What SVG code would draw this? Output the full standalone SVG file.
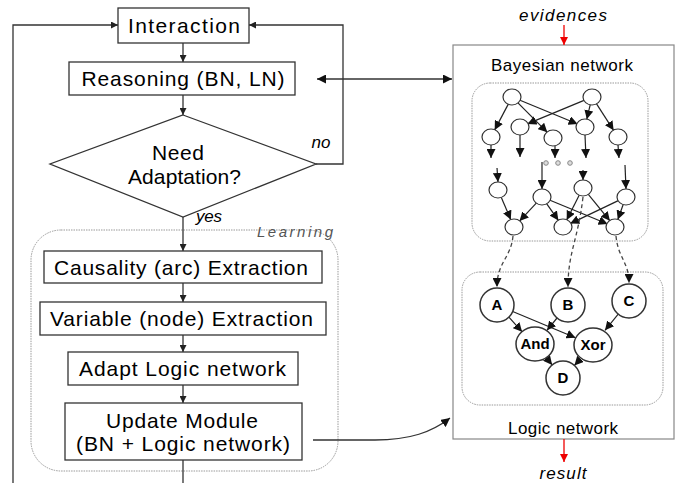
<svg xmlns="http://www.w3.org/2000/svg" width="682" height="483" viewBox="0 0 682 483">
<style>
.box{fill:#fff;stroke:#333;stroke-width:1.3}
.t{font-family:"Liberation Sans",Arial,sans-serif;font-size:21px;fill:#000;text-anchor:middle}
.it{font-family:"Liberation Sans",Arial,sans-serif;font-style:italic;font-size:17px;fill:#000;text-anchor:middle}
.st{font-family:"Liberation Sans",Arial,sans-serif;font-size:17px;fill:#000;text-anchor:middle}
.nl{font-family:"Liberation Sans",Arial,sans-serif;font-weight:bold;font-size:15px;fill:#000;text-anchor:middle}
.ln{fill:none;stroke:#333;stroke-width:1.3}
.bn{fill:none;stroke:#222;stroke-width:1.2}
.dash{fill:none;stroke:#444;stroke-width:1.3;stroke-dasharray:4 3}
.red{fill:none;stroke:#e00;stroke-width:1.3}
.grp{fill:none;stroke:#999;stroke-width:1;stroke-dasharray:1.5 1}
.node{fill:#fff;stroke:#333;stroke-width:1.2}
.lnode{fill:#fff;stroke:#333;stroke-width:1.5}
</style>
<defs>
<marker id="ah" viewBox="0 0 8 8" refX="8" refY="4" markerWidth="7" markerHeight="7" markerUnits="userSpaceOnUse" orient="auto"><path d="M0,0 L8,4 L0,8 z" fill="#222"/></marker>
<marker id="ahs" viewBox="0 0 8 8" refX="0" refY="4" markerWidth="9" markerHeight="9" markerUnits="userSpaceOnUse" orient="auto"><path d="M8,0 L0,4 L8,8 z" fill="#111"/></marker>
<marker id="ahb" viewBox="0 0 8 8" refX="8" refY="4" markerWidth="9" markerHeight="9" markerUnits="userSpaceOnUse" orient="auto"><path d="M0,0 L8,4 L0,8 z" fill="#111"/></marker>
<marker id="ahr" viewBox="0 0 8 8" refX="8" refY="4" markerWidth="8" markerHeight="8" markerUnits="userSpaceOnUse" orient="auto"><path d="M0,0 L8,4 L0,8 z" fill="#e00"/></marker>
</defs>

<!-- groups / containers -->
<rect id="learning-group" class="grp" x="31" y="230" width="307" height="241" rx="30"/>
<text class="it" x="295" y="237" style="fill:#555;font-size:15px" textLength="76">Learning</text>

<g id="right-panel">
<rect x="453" y="45" width="221" height="394" fill="#fff" stroke="#888" stroke-width="1.2"/>
<text class="st" x="562" y="71" textLength="142">Bayesian network</text>
<text class="st" x="563" y="434" textLength="110">Logic network</text>
<rect class="grp" x="472" y="83" width="176" height="158" rx="18"/>
<rect class="grp" x="462" y="272" width="201" height="133" rx="18"/>
</g>

<!-- connectors -->
<g id="connectors">
<line class="ln" x1="183" y1="43" x2="183" y2="62" marker-end="url(#ah)"/>
<line class="ln" x1="183" y1="95" x2="183" y2="115" marker-end="url(#ah)"/>
<line class="ln" x1="183" y1="217" x2="183" y2="251" marker-end="url(#ah)"/>
<line class="ln" x1="183" y1="283" x2="183" y2="302" marker-end="url(#ah)"/>
<line class="ln" x1="183" y1="335" x2="183" y2="352" marker-end="url(#ah)"/>
<line class="ln" x1="183" y1="385" x2="183" y2="403" marker-end="url(#ah)"/>
<line class="ln" x1="183" y1="460" x2="183" y2="483"/>
<polyline class="ln" points="13,483 13,25 118,25" marker-end="url(#ah)"/>
<polyline class="ln" points="316,164 343,164 343,25 249,25" marker-end="url(#ah)"/>
<line class="ln" x1="317" y1="79" x2="452" y2="79" marker-start="url(#ahs)" marker-end="url(#ahb)"/>
<path class="ln" d="M313,440 L375,440 C410,440 432,432 450,418" marker-end="url(#ahb)"/>
<line class="red" x1="564" y1="25" x2="564" y2="45" marker-end="url(#ahr)"/>
<line class="red" x1="564" y1="439" x2="564" y2="462" marker-end="url(#ahr)"/>

<!-- BN edges -->
<line class="bn" x1="508.3" y1="104.1" x2="494.7" y2="129.9" marker-end="url(#ahb)"/>
<line class="bn" x1="517.7" y1="102.7" x2="547.3" y2="132.3" marker-end="url(#ahb)"/>
<line class="bn" x1="519.4" y1="100" x2="577.6" y2="124" marker-end="url(#ahb)"/>
<line class="bn" x1="584.6" y1="100.1" x2="527.4" y2="123.9" marker-end="url(#ahb)"/>
<line class="bn" x1="590.2" y1="104.8" x2="586.8" y2="119.2" marker-end="url(#ahb)"/>
<line class="bn" x1="596.4" y1="103.7" x2="613.6" y2="130.3" marker-end="url(#ahb)"/>
<line class="bn" x1="491" y1="145" x2="491" y2="158" marker-end="url(#ahb)"/>
<line class="bn" x1="520" y1="135" x2="520" y2="157" marker-end="url(#ahb)"/>
<line class="bn" x1="555" y1="146" x2="555" y2="158" marker-end="url(#ahb)"/>
<line class="bn" x1="585" y1="135" x2="586" y2="158" marker-end="url(#ahb)"/>
<line class="bn" x1="618" y1="145" x2="619" y2="158" marker-end="url(#ahb)"/>
<line class="bn" x1="497" y1="168" x2="498" y2="182" marker-end="url(#ahb)"/>
<line class="bn" x1="542" y1="162" x2="542" y2="189" marker-end="url(#ahb)"/>
<line class="bn" x1="583" y1="170" x2="583" y2="180" marker-end="url(#ahb)"/>
<line class="bn" x1="625" y1="165" x2="626" y2="189" marker-end="url(#ahb)"/>
<line class="bn" x1="501.2" y1="197.3" x2="510.8" y2="219.7" marker-end="url(#ahb)"/>
<line class="bn" x1="536.5" y1="202.9" x2="519.5" y2="221.1" marker-end="url(#ahb)"/>
<line class="bn" x1="546.6" y1="203.6" x2="558.4" y2="220.4" marker-end="url(#ahb)"/>
<line class="bn" x1="549.4" y1="200" x2="607.6" y2="224" marker-end="url(#ahb)"/>
<line class="bn" x1="579.3" y1="195.1" x2="566.7" y2="219.9" marker-end="url(#ahb)"/>
<line class="bn" x1="588.1" y1="194.2" x2="609.9" y2="220.8" marker-end="url(#ahb)"/>
<line class="bn" x1="618.8" y1="200.4" x2="570.2" y2="223.6" marker-end="url(#ahb)"/>
<line class="bn" x1="623.2" y1="204.5" x2="617.8" y2="219.5" marker-end="url(#ahb)"/>

<!-- BN to logic dashed -->
<path class="dash" d="M513,236 C511,258 497,262 497,287" marker-end="url(#ahb)"/>
<path class="dash" d="M583,197 C578,240 568,252 568,287" marker-end="url(#ahb)"/>
<path class="dash" d="M616,236 C618,258 629,262 629,283" marker-end="url(#ahb)"/>

<!-- logic edges -->
<line class="bn" x1="508.9" y1="317.2" x2="522.1" y2="331.8" marker-end="url(#ahb)"/>
<line class="bn" x1="512.7" y1="311.5" x2="575.5" y2="337.7" marker-end="url(#ahb)"/>
<line class="bn" x1="557" y1="318" x2="547" y2="330.3" marker-end="url(#ahb)"/>
<line class="bn" x1="618.2" y1="314.2" x2="605" y2="330.3" marker-end="url(#ahb)"/>
<line class="bn" x1="546.4" y1="357.9" x2="552.2" y2="364.9" marker-end="url(#ahb)"/>
<line class="bn" x1="580.2" y1="359.1" x2="574.4" y2="365.4" marker-end="url(#ahb)"/>
</g>

<!-- flowchart nodes -->
<g id="interaction"><rect class="box" x="118" y="8" width="131" height="35"/><text class="t" x="184" y="33" textLength="112">Interaction</text></g>
<g id="reasoning"><rect class="box" x="69" y="62" width="226" height="33"/><text class="t" x="183" y="86" textLength="203">Reasoning (BN, LN)</text></g>
<g id="need-adaptation"><polygon class="box" points="183,115 316,164 183,217 50,164"/><text class="t" x="178" y="160" textLength="52">Need</text><text class="t" x="184.5" y="184" textLength="113">Adaptation?</text></g>
<text class="it" x="321" y="148" style="font-size:17px" textLength="19">no</text>
<text class="it" x="209" y="222" style="font-size:17px" textLength="26">yes</text>
<g id="causality"><rect class="box" x="44" y="251" width="278" height="32"/><text class="t" x="181" y="275" textLength="254">Causality (arc) Extraction</text></g>
<g id="variable"><rect class="box" x="40" y="302" width="286" height="33"/><text class="t" x="181.5" y="326" textLength="263">Variable (node) Extraction</text></g>
<g id="adapt"><rect class="box" x="68" y="352" width="230" height="33"/><text class="t" x="182.5" y="376" textLength="207">Adapt Logic network</text></g>
<g id="update"><rect class="box" x="65" y="403" width="237" height="57"/><text class="t" x="182" y="428" textLength="152">Update Module</text><text class="t" x="183" y="451" textLength="214">(BN + Logic network)</text></g>

<!-- right labels -->
<text class="it" x="563" y="21" textLength="88">evidences</text>
<text class="it" x="563" y="479" textLength="47">result</text>

<!-- BN nodes -->
<g id="bn-nodes">
<ellipse class="node" cx="512" cy="97" rx="9" ry="8"/>
<ellipse class="node" cx="592" cy="97" rx="9" ry="8"/>
<ellipse class="node" cx="491" cy="137" rx="9" ry="8"/>
<ellipse class="node" cx="520" cy="127" rx="9" ry="8"/>
<ellipse class="node" cx="553" cy="138" rx="9" ry="8"/>
<ellipse class="node" cx="585" cy="127" rx="9" ry="8"/>
<ellipse class="node" cx="618" cy="137" rx="9" ry="8"/>
<ellipse class="node" cx="498" cy="190" rx="9" ry="8"/>
<ellipse class="node" cx="542" cy="197" rx="9" ry="8"/>
<ellipse class="node" cx="583" cy="188" rx="9" ry="8"/>
<ellipse class="node" cx="626" cy="197" rx="9" ry="8"/>
<ellipse class="node" cx="514" cy="227" rx="9" ry="8"/>
<ellipse class="node" cx="563" cy="227" rx="9" ry="8"/>
<ellipse class="node" cx="615" cy="227" rx="9" ry="8"/>
<circle cx="546" cy="163" r="2.3" fill="#ddd" stroke="#888" stroke-width="1"/>
<circle cx="558" cy="163" r="2.3" fill="#ddd" stroke="#888" stroke-width="1"/>
<circle cx="570" cy="163" r="2.3" fill="#ddd" stroke="#888" stroke-width="1"/>
</g>

<!-- logic nodes -->
<g id="node-A"><circle class="lnode" cx="497" cy="305" r="17"/><text class="nl" x="497" y="310">A</text></g>
<g id="node-B"><circle class="lnode" cx="568" cy="305" r="17"/><text class="nl" x="568" y="310">B</text></g>
<g id="node-C"><circle class="lnode" cx="629" cy="301" r="17"/><text class="nl" x="629" y="306">C</text></g>
<g id="node-And"><ellipse class="lnode" cx="535" cy="344" rx="19" ry="17"/><text class="nl" x="535" y="349">And</text></g>
<g id="node-Xor"><ellipse class="lnode" cx="593" cy="345" rx="19" ry="17"/><text class="nl" x="593" y="350">Xor</text></g>
<g id="node-D"><circle class="lnode" cx="563" cy="378" r="17"/><text class="nl" x="563" y="383">D</text></g>
</svg>
